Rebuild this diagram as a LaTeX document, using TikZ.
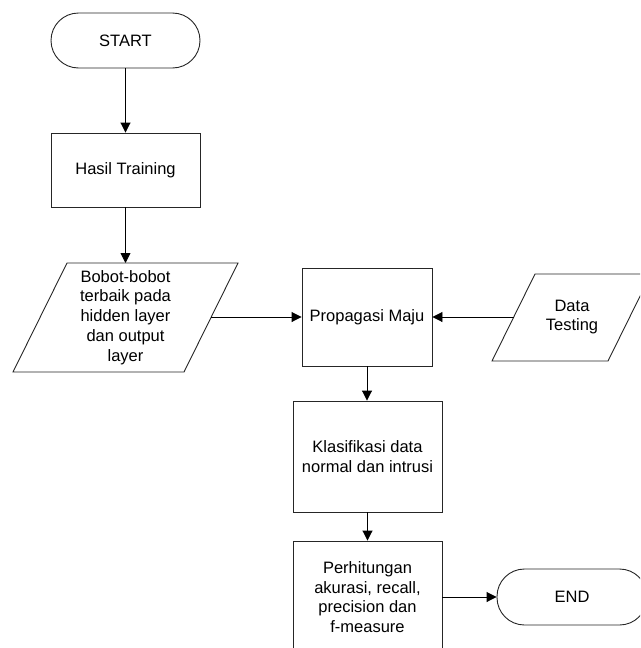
\documentclass[tikz,border=0pt]{standalone}
\usepackage{fontspec}
\setmainfont{Liberation Sans}
\usetikzlibrary{arrows.meta}
\tikzset{
  shapeline/.style={draw=black!85, line width=0.9pt},
  conn/.style={draw=black, line width=0.9pt, -{Triangle[length=10pt,width=10pt]}},
  terminal/.style={shapeline, rectangle, rounded corners=27.5pt, align=center, inner sep=0pt},
  procbox/.style={shapeline, rectangle, align=center, inner sep=0pt},
  label/.style={align=center, inner sep=0pt},
}
\begin{document}
\begin{tikzpicture}[x=1pt, y=-1pt, font=\fontsize{16.5}{19.8}\selectfont]
\useasboundingbox (0,0) rectangle (640,648);
\clip (0,0) rectangle (640,648);

% terminals and boxes
\node[terminal, minimum width=149pt, minimum height=55pt] (start) at (125.5,40.5) {START};
\node[procbox, minimum width=149pt, minimum height=74pt] (hasil) at (125.5,170) {Hasil Training};
\node[procbox, minimum width=130pt, minimum height=98pt] (prop) at (367,317) {Propagasi Maju};
\node[procbox, minimum width=149pt, minimum height=111pt] (klas) at (367.5,456.5) {Klasifikasi data\\normal dan intrusi};
\node[procbox, minimum width=149pt, minimum height=112pt] (perh) at (367.5,597) {Perhitungan\\akurasi, recall,\\precision dan\\f-measure};
\node[terminal, minimum width=150pt, minimum height=56pt] (end) at (572,597) {END};

% parallelograms (input/output)
\draw[shapeline] (13,372) -- (184,372) -- (238,263) -- (67,263) -- cycle;
\node[label] (bobot) at (125.5,317.5) {Bobot-bobot\\terbaik pada\\hidden layer\\dan output\\layer};
\coordinate (bobotT) at (125.5,263);
\coordinate (bobotR) at (211.2,317);

\draw[shapeline] (492,361) -- (608,361) -- (651,274) -- (535,274) -- cycle;
\node[label] (data) at (572,317) {Data\\Testing};
\coordinate (dataL) at (513.7,317);

% connectors
\draw[conn] (start.south) -- (hasil.north);
\draw[conn] (hasil.south) -- (bobotT);
\draw[conn] (bobotR) -- (prop.west);
\draw[conn] (dataL) -- (prop.east);
\draw[conn] (prop.south) -- (prop.south |- klas.north);
\draw[conn] (klas.south) -- (perh.north);
\draw[conn] (perh.east) -- (end.west);
\end{tikzpicture}
\end{document}
